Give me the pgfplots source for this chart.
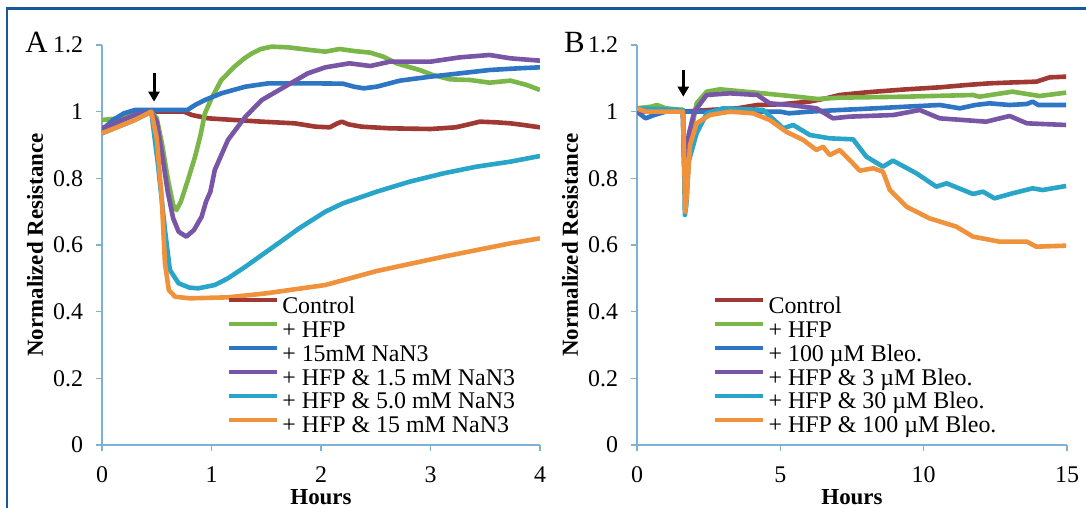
\documentclass[border=0pt]{standalone}
\usepackage{fontspec}
\setmainfont{Liberation Serif}
\usepackage{pgfplots}
\pgfplotsset{compat=1.18}
\usetikzlibrary{arrows.meta}
\definecolor{cctrl}{RGB}{160,56,52}
\definecolor{chfp}{RGB}{122,182,72}
\definecolor{cblu}{RGB}{46,117,196}
\definecolor{cpur}{RGB}{120,85,165}
\definecolor{ccya}{RGB}{40,165,200}
\definecolor{cora}{RGB}{240,145,60}
\definecolor{caxis}{RGB}{125,178,214}
\definecolor{cframe}{RGB}{25,90,150}
\pgfplotsset{
  excel/.style={
    scale only axis,
    ymin=0, ymax=1.2,
    ytick={0,0.2,0.4,0.6,0.8,1,1.2},
    axis x line=bottom, axis y line=left,
    axis line style={-, draw=caxis, line width=0.8bp},
    tick style={draw=caxis, line width=0.8bp},
    tick align=outside, major tick length=3bp,
    /pgf/number format/assume math mode=true,
    ticklabel style={font=\fontsize{12}{14}\selectfont},
    yticklabel style={xshift=-3bp},
    xticklabel style={inner sep=0.5bp, yshift=-7bp},
    label style={font=\bfseries\fontsize{11.5}{13}\selectfont, inner sep=0.5bp},
    xlabel style={at={(axis description cs:0.5,0)}, anchor=center, yshift=-26bp},
    legend cell align=left,
    legend style={draw=none, fill=none, inner sep=0pt, outer sep=0pt, row sep=0pt, column sep=1.5bp,
      font=\fontsize{12}{14}\selectfont, anchor=north west,
      nodes={inner sep=0pt, text height=8.5bp, text depth=3.5bp}},
    legend image code/.code={\draw[##1] (0bp,4bp) -- (24bp,4bp);},
    every axis plot/.append style={line width=2.3bp, line join=round, no markers},
  }
}
\begin{document}
\begin{tikzpicture}
\useasboundingbox (0,0) rectangle (543bp,254bp);
\draw[cframe, line width=1.3bp] (3.5bp,0) -- (3.5bp,249.8bp) -- (543bp,249.8bp);
\node[font=\fontsize{15.5}{17}\selectfont] at (18.25bp,233bp) {A};
\node[font=\fontsize{15.5}{17}\selectfont] at (287.25bp,233bp) {B};

\begin{axis}[excel, at={(51bp,31.5bp)}, anchor=south west,
  width=219bp, height=200bp, xmin=0, xmax=4, xtick={0,1,2,3,4},
  xlabel={Hours}, ylabel={Normalized Resistance},
  ylabel style={at={(axis description cs:-0.153,0.5)}, anchor=center},
  legend style={at={(axis description cs:0.2847,0.3725)}}]
\addplot[cctrl] coordinates {(0,0.94) (0.15,0.97) (0.3,0.995) (0.45,1.0) (0.75,1.0) (0.82,0.99) (0.97,0.98) (1.21,0.975) (1.46,0.97) (1.76,0.965) (1.95,0.955) (2.08,0.953) (2.15,0.965) (2.19,0.97) (2.25,0.962) (2.37,0.955) (2.63,0.95) (3.0,0.948) (3.23,0.953) (3.35,0.962) (3.45,0.97) (3.6,0.968) (3.73,0.965) (3.85,0.96) (4.0,0.953)};
\addlegendentry{Control}
\addplot[chfp] coordinates {(0,0.975) (0.15,0.98) (0.3,0.99) (0.45,1.0) (0.5,0.98) (0.55,0.9) (0.6,0.8) (0.65,0.72) (0.68,0.705) (0.72,0.73) (0.78,0.79) (0.85,0.865) (0.9,0.93) (0.94,0.995) (1.0,1.04) (1.09,1.095) (1.21,1.135) (1.3,1.16) (1.37,1.175) (1.45,1.188) (1.55,1.195) (1.7,1.193) (1.9,1.185) (2.04,1.18) (2.17,1.188) (2.3,1.182) (2.45,1.177) (2.57,1.165) (2.69,1.145) (2.9,1.125) (3.02,1.11) (3.18,1.097) (3.36,1.095) (3.54,1.087) (3.73,1.093) (3.88,1.08) (4.0,1.065)};
\addlegendentry{+ HFP}
\addplot[cblu] coordinates {(0,0.945) (0.1,0.975) (0.2,0.995) (0.3,1.005) (0.78,1.005) (0.85,1.02) (0.94,1.035) (1.09,1.055) (1.31,1.075) (1.52,1.085) (1.9,1.085) (2.2,1.084) (2.3,1.075) (2.39,1.07) (2.51,1.075) (2.72,1.093) (3.0,1.105) (3.27,1.115) (3.54,1.125) (3.8,1.13) (4.0,1.133)};
\addlegendentry{+ 15mM NaN3}
\addplot[cpur] coordinates {(0,0.95) (0.15,0.97) (0.3,0.99) (0.45,1.0) (0.5,0.97) (0.55,0.87) (0.6,0.76) (0.65,0.68) (0.7,0.64) (0.77,0.625) (0.84,0.645) (0.91,0.685) (0.95,0.73) (0.99,0.76) (1.03,0.825) (1.09,0.87) (1.15,0.915) (1.31,0.985) (1.46,1.035) (1.67,1.075) (1.88,1.115) (2.04,1.133) (2.26,1.145) (2.45,1.137) (2.63,1.15) (3.0,1.15) (3.27,1.163) (3.54,1.17) (3.73,1.16) (4.0,1.153)};
\addlegendentry{+ HFP \& 1.5 mM NaN3}
\addplot[ccya] coordinates {(0,0.935) (0.15,0.955) (0.3,0.975) (0.45,1.0) (0.51,0.845) (0.575,0.645) (0.62,0.525) (0.7,0.485) (0.8,0.472) (0.88,0.47) (1.03,0.48) (1.15,0.5) (1.31,0.535) (1.61,0.605) (1.8,0.65) (2.04,0.70) (2.2,0.725) (2.51,0.76) (2.81,0.79) (3.12,0.815) (3.42,0.835) (3.73,0.85) (4.0,0.867)};
\addlegendentry{+ HFP \& 5.0 mM NaN3}
\addplot[cora] coordinates {(0,0.935) (0.15,0.955) (0.3,0.975) (0.45,1.0) (0.5,0.92) (0.545,0.745) (0.575,0.545) (0.61,0.465) (0.667,0.445) (0.8,0.44) (1.15,0.443) (1.5,0.455) (2.04,0.48) (2.51,0.522) (3.12,0.565) (3.73,0.605) (4.0,0.62)};
\addlegendentry{+ HFP \& 15 mM NaN3}
\draw[-{Triangle[length=5bp,width=5.5bp]}, line width=1.5bp, black] (axis cs:0.475,1.115) -- (axis cs:0.475,1.03);
\end{axis}

\begin{axis}[excel, at={(318.5bp,31.5bp)}, anchor=south west,
  width=215bp, height=200bp, xmin=0, xmax=15, xtick={0,5,10,15},
  xlabel={Hours}, ylabel={Normalized Resistance},
  ylabel style={at={(axis description cs:-0.1558,0.5)}, anchor=center},
  legend style={at={(axis description cs:0.1767,0.3725)}}]
\addplot[cctrl] coordinates {(0,1.0) (1.6,1.0) (2.5,1.005) (3.5,1.01) (4.2,1.02) (5,1.022) (6,1.03) (6.6,1.04) (7.07,1.05) (8,1.058) (9.4,1.067) (10.56,1.073) (11.5,1.08) (12.3,1.085) (13.2,1.088) (13.93,1.09) (14.4,1.103) (14.97,1.105)};
\addlegendentry{Control}
\addplot[chfp] coordinates {(0,1.01) (0.5,1.015) (0.7,1.02) (1.0,1.01) (1.6,1.005) (1.66,0.8) (1.7,0.76) (1.8,0.9) (2.08,1.025) (2.43,1.06) (2.89,1.067) (4.4,1.055) (5.56,1.045) (6.3,1.038) (7.07,1.042) (9.4,1.045) (11.72,1.05) (11.95,1.045) (13.1,1.06) (14.04,1.047) (14.97,1.057)};
\addlegendentry{+ HFP}
\addplot[cblu] coordinates {(0,1.0) (0.15,0.99) (0.3,0.98) (0.6,0.99) (1.0,1.0) (5.0,1.0) (5.3,0.995) (6.0,1.0) (7.07,1.005) (8.3,1.01) (9.4,1.015) (10.56,1.02) (11.26,1.01) (11.8,1.02) (12.3,1.025) (13.0,1.02) (13.6,1.023) (13.8,1.03) (14.0,1.02) (14.97,1.02)};
\addlegendentry{+ 100 µM Bleo.}
\addplot[cpur] coordinates {(0,1.0) (1.6,1.0) (1.66,0.8) (1.7,0.76) (1.8,0.93) (2.0,1.0) (2.43,1.05) (3.24,1.055) (4.2,1.05) (4.63,1.025) (5.33,1.02) (6.26,1.01) (6.84,0.98) (7.4,0.985) (8.95,0.99) (9.86,1.005) (10.56,0.98) (12.18,0.97) (13.0,0.987) (13.6,0.965) (14.97,0.96)};
\addlegendentry{+ HFP \& 3 µM Bleo.}
\addplot[ccya] coordinates {(0,1.01) (1.6,1.005) (1.65,0.8) (1.67,0.69) (1.72,0.72) (1.8,0.85) (2.08,0.935) (2.43,0.995) (3.0,1.01) (4.4,1.005) (5.1,0.95) (5.45,0.96) (6.03,0.93) (6.72,0.92) (7.54,0.917) (8.0,0.865) (8.58,0.835) (8.93,0.853) (9.75,0.815) (10.44,0.775) (10.8,0.785) (11.72,0.753) (12.07,0.76) (12.47,0.74) (13.1,0.755) (13.8,0.77) (14.15,0.765) (14.97,0.777)};
\addlegendentry{+ HFP \& 30 µM Bleo.}
\addplot[cora] coordinates {(0,1.01) (0.3,1.0) (1.6,1.0) (1.65,0.85) (1.68,0.70) (1.74,0.75) (1.85,0.9) (2.08,0.965) (2.54,0.99) (3.24,1.0) (4.05,0.995) (4.63,0.975) (5.2,0.94) (5.8,0.915) (6.26,0.885) (6.49,0.895) (6.72,0.87) (7.07,0.885) (7.42,0.855) (7.77,0.823) (8.24,0.83) (8.58,0.82) (8.82,0.765) (9.4,0.715) (10.2,0.68) (11.14,0.655) (11.72,0.625) (12.65,0.61) (13.6,0.61) (13.93,0.595) (14.97,0.598)};
\addlegendentry{+ HFP \& 100 µM Bleo.}
\draw[-{Triangle[length=5bp,width=5.5bp]}, line width=1.5bp, black] (axis cs:1.615,1.125) -- (axis cs:1.615,1.045);
\end{axis}
\end{tikzpicture}
\end{document}
